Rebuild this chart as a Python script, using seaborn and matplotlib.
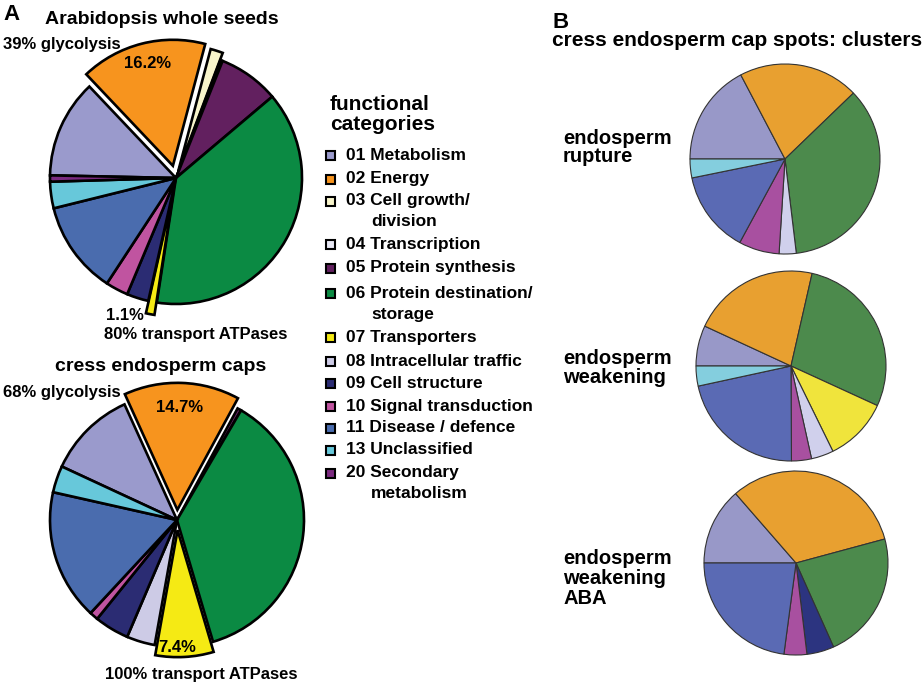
import numpy as np
import matplotlib.pyplot as plt
import seaborn as sns
from matplotlib.patches import Rectangle

sns.set_theme(style="white")
plt.rcParams["font.family"] = ["Liberation Sans", "DejaVu Sans"]
plt.rcParams["font.weight"] = "bold"
plt.rcParams["text.color"] = "black"

# functional categories (legend order = slice order, clockwise)
categories = ["01 Metabolism", "02 Energy", "03 Cell growth/\ndivision", "04 Transcription",
              "05 Protein synthesis", "06 Protein destination/\nstorage", "07 Transporters",
              "08 Intracellular traffic", "09 Cell structure", "10 Signal transduction",
              "11 Disease / defence", "13 Unclassified", "20 Secondary\nmetabolism"]

colors_a = sns.color_palette(["#9A9ACC", "#F7941E", "#F8F5CB", "#E8E8F4", "#62205F", "#0B8A43",
                              "#F5EA14", "#CDCBE6", "#2B2C73", "#C054A0", "#4A6CAE", "#67C8DA",
                              "#7B2A7F"])
colors_b = sns.color_palette(["#9898C8", "#E8A030", "#F8F5CB", "#E8E8F4", "#62205F", "#4C8A4C",
                              "#F0E43C", "#D0D0EC", "#2C3480", "#A850A0", "#5A6AB4", "#84CEDE",
                              "#7B2A7F"])

# percentages per category (panel A)
seeds = [12.6, 16.2, 1.6, 0.3, 7.8, 38.6, 1.1, 0.0, 2.8, 2.9, 11.9, 3.4, 0.8]
caps = [11.3, 14.7, 0.0, 0.0, 0.5, 37.0, 7.4, 3.6, 4.4, 1.1, 16.6, 3.4, 0.0]
# panel B clusters
rupture = [17.3, 20.5, 0, 0, 0, 35.3, 0, 2.9, 0, 6.9, 13.9, 3.2, 0]
weakening = [6.9, 21.7, 0, 0, 0, 28.3, 10.9, 3.8, 0, 3.4, 21.7, 3.4, 0]
weakening_aba = [13.6, 32.2, 0, 0, 0, 22.5, 0, 0, 4.8, 4.0, 22.9, 0, 0]

W, H = 924, 687
fig = plt.figure(figsize=(W / 100, H / 100), dpi=100)


def px(x, y):
    return x / W, 1 - y / H


def pie_at(cx, cy, r, values, colors, explode=None, start=180, lw=1.9, ec="black"):
    k = 1.3
    ax = fig.add_axes([(cx - k * r) / W, 1 - (cy + k * r) / H, 2 * k * r / W, 2 * k * r / H])
    vals, cols, exps = [], [], []
    for i, v in enumerate(values):
        if v > 0:
            vals.append(v)
            cols.append(colors[i])
            exps.append(explode.get(i, 0) if explode else 0)
    ax.pie(vals, colors=cols, explode=exps, startangle=start, counterclock=False,
           normalize=True, wedgeprops=dict(edgecolor=ec, linewidth=lw))
    ax.set_xlim(-k, k)
    ax.set_ylim(-k, k)
    ax.axis("off")
    return ax


def txt(x, y, s, size=12, ha="left"):
    fig.text(*px(x, y), s, fontsize=size, ha=ha, va="center", fontweight="bold", color="black")


# panel A
pie_at(176, 178, 126, seeds, colors_a, explode={1: 0.1, 2: 0.06, 6: 0.1}, start=178.8)
pie_at(177, 520, 127, caps, colors_a, explode={1: 0.08, 6: 0.08}, start=155.1)

txt(3, 14, "A", 16)
txt(162, 19, "Arabidopsis whole seeds", 14, "center")
txt(3, 44, "39% glycolysis")
txt(148, 63, "16.2%", 12, "center")
txt(125, 315, "1.1%", 12, "center")
txt(196, 335, "80% transport ATPases", 12, "center")
txt(161, 367, "cress endosperm caps", 14, "center")
txt(3, 392, "68% glycolysis")
txt(180, 407, "14.7%", 12, "center")
txt(177, 648, "7.4%", 12, "center")
txt(201, 675, "100% transport ATPases", 12, "center")

# legend
txt(330, 104, "functional", 15)
txt(330, 125, "categories", 15)
ys = [155, 179, 201, 244, 268, 293, 337, 361, 383, 406, 428, 450, 473]
for lab, col, y in zip(categories, colors_a, ys):
    fig.patches.append(Rectangle(px(326, y + 5), 9 / W, 9 / H, transform=fig.transFigure,
                                 facecolor=col, edgecolor="black", linewidth=1.5))
    lines = lab.split("\n")
    txt(346, y, lines[0], 12.5)
    if len(lines) > 1:
        txt(371, y + 21, lines[1], 12.5)

# panel B
txt(552, 22, "B", 16)
txt(552, 41, "cress endosperm cap spots: clusters", 15)
pie_at(785, 159, 95, rupture, colors_b, start=180, lw=0.8, ec="#333333")
pie_at(791, 366, 95, weakening, colors_b, start=180, lw=0.8, ec="#333333")
pie_at(796, 563, 92, weakening_aba, colors_b, start=180, lw=0.8, ec="#333333")

txt(563, 138, "endosperm", 14.5)
txt(563, 157, "rupture", 14.5)
txt(563, 358, "endosperm", 14.5)
txt(563, 378, "weakening", 14.5)
txt(563, 558, "endosperm", 14.5)
txt(563, 578, "weakening", 14.5)
txt(563, 598, "ABA", 14.5)

fig.savefig("out.png", dpi=100)
